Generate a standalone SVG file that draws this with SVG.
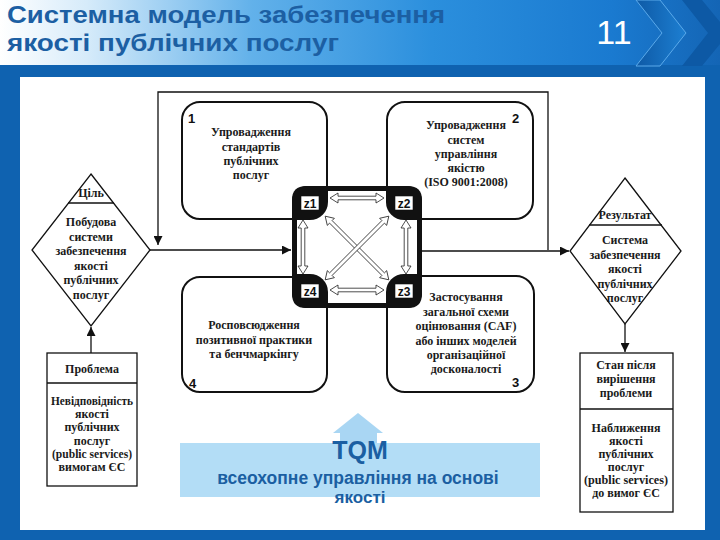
<svg xmlns="http://www.w3.org/2000/svg" width="720" height="540" viewBox="0 0 720 540">
<defs>
<linearGradient id="hdr" x1="0" y1="0" x2="1" y2="0">
<stop offset="0" stop-color="#ffffff"/>
<stop offset="0.12" stop-color="#d6ebfa"/>
<stop offset="0.35" stop-color="#62b1ea"/>
<stop offset="0.6" stop-color="#2b8fdd"/>
<stop offset="0.85" stop-color="#1a7ad0"/>
<stop offset="1" stop-color="#1465b5"/>
</linearGradient>
<linearGradient id="chev" x1="0" y1="0" x2="1" y2="0">
<stop offset="0" stop-color="#0e5aa6"/>
<stop offset="1" stop-color="#1d7fd2"/>
</linearGradient>
<marker id="ah" viewBox="0 0 10 10" refX="10" refY="5" markerWidth="9" markerHeight="9" markerUnits="userSpaceOnUse" orient="auto">
<path d="M0,0 L10,5 L0,10 Z" fill="#111"/>
</marker>
<path id="dA" d="M-27,0 L-19,-5 L-19,-1.8 L19,-1.8 L19,-5 L27,0 L19,5 L19,1.8 L-19,1.8 L-19,5 Z"/>
<path id="dB" d="M-45,0 L-37,-5 L-37,-1.8 L37,-1.8 L37,-5 L45,0 L37,5 L37,1.8 L-37,1.8 L-37,5 Z"/>
</defs>
<style>
.ttl{font-family:"Liberation Sans",Arial,sans-serif;font-weight:bold;font-size:24px;fill:#1c5fa3}
.t{font-family:"Liberation Serif","Times New Roman",serif;font-weight:bold;font-size:12px;fill:#1a1a1a;text-anchor:middle}
.s{font-family:"Liberation Serif","Times New Roman",serif;font-weight:bold;font-size:12px;fill:#1a1a1a;text-anchor:middle}
.n{font-family:"Liberation Sans",Arial,sans-serif;font-weight:bold;font-size:13px;fill:#111}
.z{font-family:"Liberation Sans",Arial,sans-serif;font-weight:bold;font-size:12px;fill:#111;text-anchor:middle}
.ln{fill:none;stroke:#111;stroke-width:1.3}
.bx{fill:#fff;stroke:#111;stroke-width:2}
.dg{fill:#fff;stroke:#111;stroke-width:1.3}
.ha{fill:#fff;stroke:#222;stroke-width:0.8}
.blob{fill:#111}
.zl{fill:#fff;stroke:#111;stroke-width:0.6}
.tq{font-family:"Liberation Sans",Arial,sans-serif;font-weight:bold;fill:#1b5fa2;text-anchor:middle}
</style>

<!-- frame and header -->
<rect x="0" y="0" width="720" height="540" fill="#0f62b0"/>
<rect x="0" y="0" width="720" height="65" fill="url(#hdr)"/>
<rect x="20" y="77" width="685" height="453" fill="#fff"/>
<polygon points="636,0 660,0 686,33 660,66 636,66 662,33" fill="url(#chev)" stroke="#5aa9ea" stroke-width="1"/>
<polygon points="682,0 702,0 720,22 720,44 702,66 682,66 708,33" fill="#0d59a5"/>
<text class="ttl" x="7" y="23" textLength="438" lengthAdjust="spacingAndGlyphs">Системна модель забезпечення</text>
<text class="ttl" x="7" y="51" textLength="332" lengthAdjust="spacingAndGlyphs">якості публічних послуг</text>
<text x="614" y="44" font-family="Liberation Sans,Arial,sans-serif" font-size="34" fill="#fff" text-anchor="middle">11</text>

<!-- connectors -->
<g id="connectors">
<polyline class="ln" points="548,250 548,92 158,92 158,245" marker-end="url(#ah)"/>
<line class="ln" x1="150" y1="250" x2="291" y2="250" marker-end="url(#ah)"/>
<line class="ln" x1="422" y1="251" x2="569" y2="251" marker-end="url(#ah)"/>
<line class="ln" x1="91" y1="353" x2="91" y2="327" marker-end="url(#ah)"/>
<line class="ln" x1="625" y1="324" x2="625" y2="352" marker-end="url(#ah)"/>
</g>

<!-- goal diamond -->
<g id="goal">
<polygon class="dg" points="91,174 150,250 91,326 32,250"/>
<line class="ln" x1="68" y1="203" x2="114" y2="203"/>
<text class="s" x="91" y="197">Ціль</text>
<text class="s" x="91" y="226">Побудова</text>
<text class="s" x="91" y="240.6">системи</text>
<text class="s" x="91" y="255.2">забезпечення</text>
<text class="s" x="91" y="269.8">якості</text>
<text class="s" x="91" y="284.4">публічних</text>
<text class="s" x="91" y="299">послуг</text>
</g>

<!-- problem box -->
<g id="problem">
<rect x="47" y="353" width="90" height="133" fill="#fff" stroke="#111" stroke-width="1.3"/>
<line class="ln" x1="47" y1="383" x2="137" y2="383"/>
<text class="s" x="92" y="373">Проблема</text>
<text class="s" x="92" y="405" textLength="82" lengthAdjust="spacingAndGlyphs">Невідповідність</text>
<text class="s" x="92" y="418">якості</text>
<text class="s" x="92" y="431">публічних</text>
<text class="s" x="92" y="444.5">послуг</text>
<text class="s" x="92" y="458" textLength="80" lengthAdjust="spacingAndGlyphs">(public services)</text>
<text class="s" x="92" y="471">вимогам ЄС</text>
</g>

<!-- result diamond -->
<g id="result">
<polygon class="dg" points="625,178 681,251 625,324 570,251"/>
<line class="ln" x1="589" y1="225" x2="662" y2="225"/>
<text class="s" x="625" y="219">Результат</text>
<text class="s" x="625" y="244">Система</text>
<text class="s" x="625" y="258.5">забезпечення</text>
<text class="s" x="625" y="273">якості</text>
<text class="s" x="625" y="287.5">публічних</text>
<text class="s" x="625" y="302">послуг</text>
</g>

<!-- after state box -->
<g id="after">
<rect x="580" y="353" width="93" height="159" fill="#fff" stroke="#111" stroke-width="1.3"/>
<line class="ln" x1="580" y1="409" x2="673" y2="409"/>
<text class="s" x="626" y="369">Стан після</text>
<text class="s" x="626" y="383">вирішення</text>
<text class="s" x="626" y="397">проблеми</text>
<text class="s" x="626" y="432">Наближення</text>
<text class="s" x="626" y="445">якості</text>
<text class="s" x="626" y="458">публічних</text>
<text class="s" x="626" y="471">послуг</text>
<text class="s" x="626" y="484" textLength="84" lengthAdjust="spacingAndGlyphs">(public services)</text>
<text class="s" x="626" y="497">до вимог ЄС</text>
</g>

<!-- box 1 -->
<g id="box1">
<rect class="bx" x="182" y="102" width="145" height="117" rx="18"/>
<text class="n" x="188" y="123">1</text>
<text class="t" x="251" y="136">Упровадження</text>
<text class="t" x="251" y="151">стандартів</text>
<text class="t" x="251" y="165">публічних</text>
<text class="t" x="251" y="179">послуг</text>
</g>

<!-- box 2 -->
<g id="box2">
<rect class="bx" x="387" y="102" width="146" height="117" rx="18"/>
<text class="n" x="512" y="123">2</text>
<text class="t" x="466" y="129">Упровадження</text>
<text class="t" x="466" y="144">систем</text>
<text class="t" x="466" y="158">управління</text>
<text class="t" x="466" y="172">якістю</text>
<text class="t" x="466" y="186">(ISO 9001:2008)</text>
</g>

<!-- box 4 -->
<g id="box4">
<rect class="bx" x="182" y="277" width="145" height="115" rx="18"/>
<text class="n" x="189" y="388">4</text>
<text class="t" x="254" y="329">Росповсюдження</text>
<text class="t" x="254" y="344">позитивної практики</text>
<text class="t" x="254" y="358">та бенчмаркінгу</text>
</g>

<!-- box 3 -->
<g id="box3">
<rect class="bx" x="387" y="276" width="147" height="116" rx="18"/>
<text class="n" x="512" y="387">3</text>
<text class="t" x="466" y="301">Застосування</text>
<text class="t" x="466" y="316">загальної схеми</text>
<text class="t" x="466" y="330">оцінювання (CAF)</text>
<text class="t" x="466" y="345">або інших моделей</text>
<text class="t" x="466" y="359">організаційної</text>
<text class="t" x="466" y="373">досконалості</text>
</g>

<!-- central z square -->
<g id="zsquare">
<rect x="294.5" y="188.5" width="125" height="117" rx="13" fill="#fff" stroke="#111" stroke-width="5"/>
<path class="blob" d="M292,200 Q292,186 306,186 L328,186 L328,202 A18,18 0 0 1 310,220 L292,220 Z"/>
<path class="blob" d="M422,200 Q422,186 408,186 L386,186 L386,202 A18,18 0 0 0 404,220 L422,220 Z"/>
<path class="blob" d="M292,294 Q292,308 306,308 L328,308 L328,292 A18,18 0 0 0 310,274 L292,274 Z"/>
<path class="blob" d="M422,294 Q422,308 408,308 L386,308 L386,292 A18,18 0 0 1 404,274 L422,274 Z"/>
<use href="#dA" class="ha" transform="translate(357,198)"/>
<use href="#dA" class="ha" transform="translate(357,290)"/>
<use href="#dA" class="ha" transform="translate(303,247) rotate(90)"/>
<use href="#dA" class="ha" transform="translate(406,247) rotate(90)"/>
<use href="#dB" class="ha" transform="translate(357,248) rotate(45)"/>
<use href="#dB" class="ha" transform="translate(357,248) rotate(-45)"/>
<rect class="zl" x="301" y="196" width="18" height="14"/>
<text class="z" x="310" y="208">z1</text>
<rect class="zl" x="395" y="196" width="18" height="14"/>
<text class="z" x="404" y="208">z2</text>
<rect class="zl" x="301" y="284" width="18" height="14"/>
<text class="z" x="310" y="296">z4</text>
<rect class="zl" x="395" y="284" width="18" height="14"/>
<text class="z" x="404" y="296">z3</text>
</g>

<!-- TQM -->
<g id="tqm">
<polygon points="358,413 383,433 377,433 377,443 340,443 340,433 333,433" fill="#a9d6f3"/>
<rect x="180" y="443" width="360" height="54" fill="#b3ddf6"/>
<text class="tq" x="360" y="459" font-size="25">TQM</text>
<text class="tq" x="358" y="484" font-size="17.5">всеохопне управління на основі</text>
<text class="tq" x="360" y="503" font-size="17">якості</text>
</g>
</svg>
